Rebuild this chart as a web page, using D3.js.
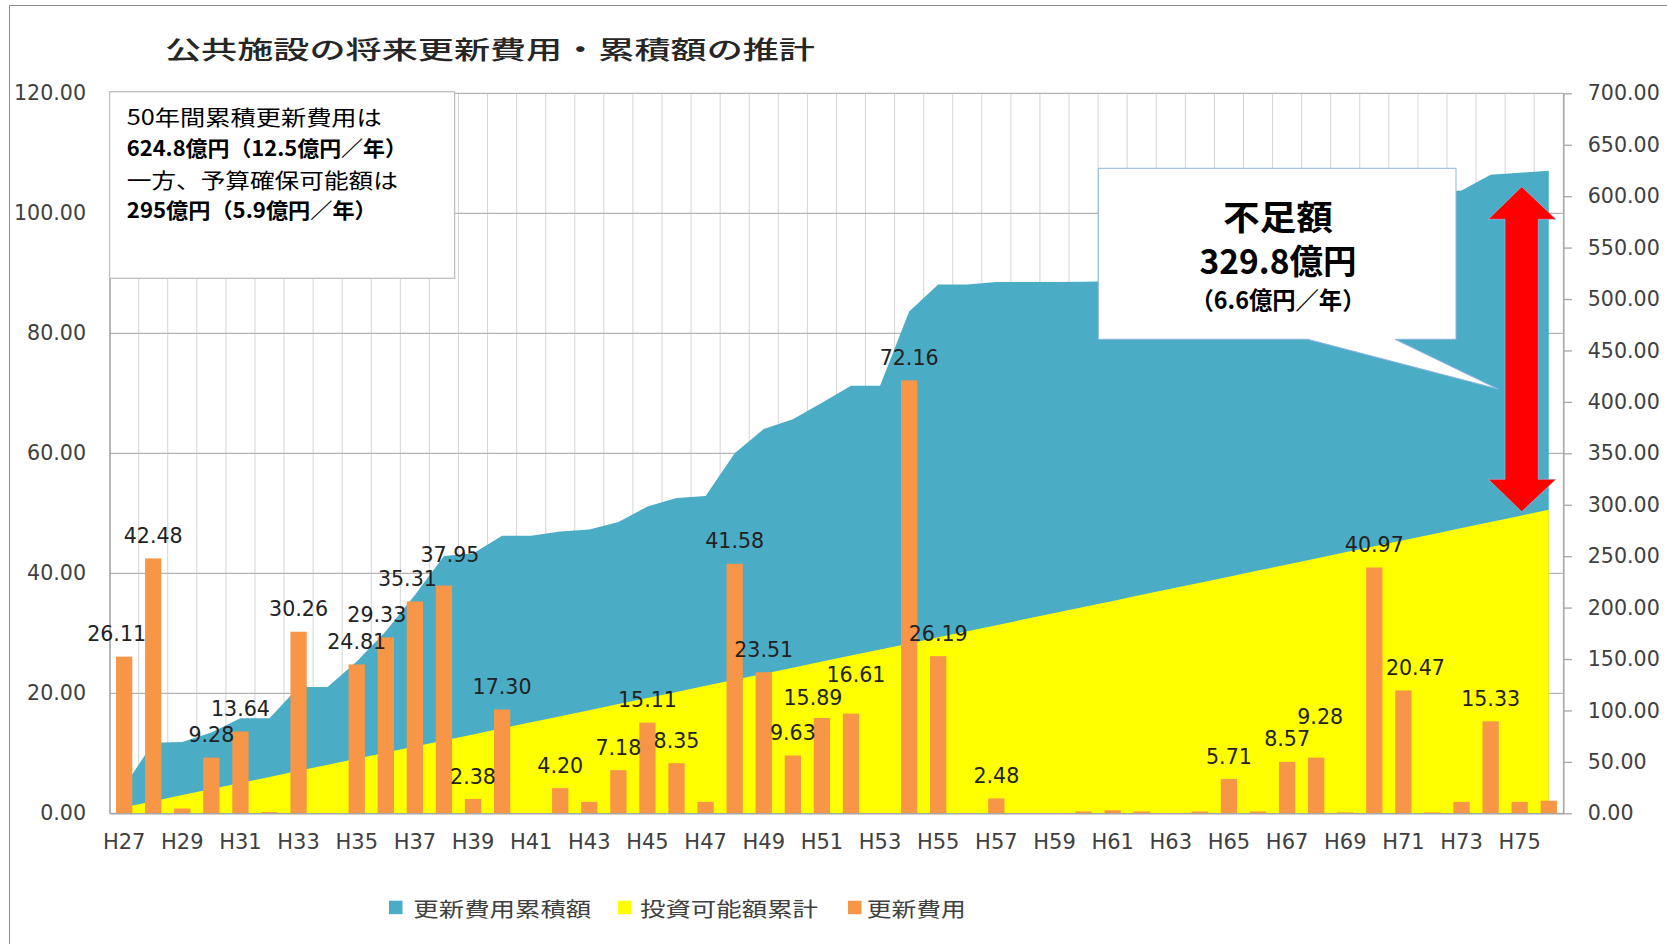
<!DOCTYPE html>
<html>
<head>
<meta charset="utf-8">
<script src="https://cdn.jsdelivr.net/npm/d3@7"></script>
<style>
  body { margin: 0; background: #fff; }
  svg { display: block; }
</style>
</head>
<body>
<div id="chart"></div>
<script>
// ---- data ----
var years = [];
for (var h = 27; h <= 76; h++) years.push("H" + h);

// 更新費用 (億円, left axis)
var renewalCost = [
  26.11, 42.48, 0.80, 9.28, 13.64, 0.20, 30.26, 0, 24.81, 29.33,
  35.31, 37.95, 2.38, 17.30, 0, 4.20, 1.90, 7.18, 15.11, 8.35,
  1.90, 41.58, 23.51, 9.63, 15.89, 16.61, 0, 72.16, 26.19, 0,
  2.48, 0, 0, 0.30, 0.50, 0.30, 0, 0.30, 5.71, 0.30,
  8.57, 9.28, 0.15, 40.97, 20.47, 0.15, 1.90, 15.33, 1.90, 2.10
];

// 更新費用累積額 (right axis)
var cumulativeCost = [
  26.11, 68.59, 69.39, 78.67, 92.31, 92.51, 122.77, 122.77, 147.58, 176.91,
  212.22, 250.17, 252.55, 269.85, 269.85, 274.05, 275.95, 283.13, 298.24, 306.59,
  308.49, 350.07, 373.58, 383.21, 399.10, 415.71, 415.71, 487.87, 514.06, 514.06,
  516.54, 516.54, 516.54, 516.84, 517.34, 517.64, 517.64, 517.94, 523.65, 523.95,
  532.52, 541.80, 541.95, 582.92, 603.39, 603.54, 605.44, 620.77, 622.67, 624.77
];

// 投資可能額累計 (right axis)
var budgetCumulative = [
  5.9, 11.8, 17.7, 23.6, 29.5, 35.4, 41.3, 47.2, 53.1, 59.0,
  64.9, 70.8, 76.7, 82.6, 88.5, 94.4, 100.3, 106.2, 112.1, 118.0,
  123.9, 129.8, 135.7, 141.6, 147.5, 153.4, 159.3, 165.2, 171.1, 177.0,
  182.9, 188.8, 194.7, 200.6, 206.5, 212.4, 218.3, 224.2, 230.1, 236.0,
  241.9, 247.8, 253.7, 259.6, 265.5, 271.4, 277.3, 283.2, 289.1, 295.0
];

var leftTicks = [0, 20, 40, 60, 80, 100, 120];
var rightTicks = [0, 50, 100, 150, 200, 250, 300, 350, 400, 450, 500, 550, 600, 650, 700];

var titleText = "公共施設の将来更新費用・累積額の推計";
var legendNames = ["更新費用累積額", "投資可能額累計", "更新費用"];
var noteLines = ["50年間累積更新費用は", "624.8億円（12.5億円／年）", "一方、予算確保可能額は", "295億円（5.9億円／年）"];
var calloutLines = ["不足額", "329.8億円", "（6.6億円／年）"];

// ---- layout ----
var W = 1667, H = 944;
var plotLeft = 109.6, plotRight = 1563.3, plotTop = 93.3, plotBottom = 813.3;
var jp = "'Noto Sans CJK JP', sans-serif";
var num = "'DejaVu Sans', sans-serif";

var colBlue = "#4bacc6", colYellow = "#ffff00", colOrange = "#f79646";

// hand-placed data label nudges [dx, dy] (labels moved in the original)
var labelNudge = {
  H27: [-7.5, 0], H36: [-9, 0], H37: [-7.5, 0], H38: [6, -8],
  H51: [-9, 3], H52: [5, -16], H68: [4, -18], H71: [12, 0]
};

var svg = d3.select("#chart").append("svg")
    .attr("width", W)
    .attr("height", H);

// outer frame
svg.append("rect")
    .attr("x", 9.5).attr("y", 5.5)
    .attr("width", W + 20).attr("height", H + 20)
    .attr("fill", "none")
    .attr("stroke", "#8c8c8c");

var x = d3.scaleBand().domain(years).range([plotLeft, plotRight]).padding(0);
var bw = x.bandwidth();
var yL = d3.scaleLinear().domain([0, 120]).range([plotBottom, plotTop]);
var yR = d3.scaleLinear().domain([0, 700]).range([plotBottom, plotTop]);

// gridlines
var grid = svg.append("g");
grid.selectAll(".vgrid")
    .data(years.concat(["end"]))
  .enter().append("line")
    .attr("x1", function(d, i) { return i < years.length ? x(d) : plotRight; })
    .attr("x2", function(d, i) { return i < years.length ? x(d) : plotRight; })
    .attr("y1", plotTop).attr("y2", plotBottom)
    .attr("stroke", "#d4d4d4").attr("stroke-width", 1);
grid.selectAll(".hgrid")
    .data(leftTicks)
  .enter().append("line")
    .attr("x1", plotLeft).attr("x2", plotRight)
    .attr("y1", function(d) { return yL(d); })
    .attr("y2", function(d) { return yL(d); })
    .attr("stroke", "#b4b4b4").attr("stroke-width", 1.3);

// areas
var area = d3.area()
    .x(function(d, i) { return x(years[i]) + bw / 2; })
    .y0(yR(0))
    .y1(function(d) { return yR(d); });

svg.append("path")
    .datum(cumulativeCost)
    .attr("d", area)
    .attr("fill", colBlue);

svg.append("path")
    .datum(budgetCumulative)
    .attr("d", area)
    .attr("fill", colYellow);

// bars
var barW = bw * 0.56;
var barData = renewalCost.map(function(v, i) { return { year: years[i], value: v }; });

svg.selectAll(".bar")
    .data(barData)
  .enter().append("rect")
    .attr("class", "bar")
    .attr("x", function(d) { return x(d.year) + (bw - barW) / 2; })
    .attr("width", barW)
    .attr("y", function(d) { return yL(d.value); })
    .attr("height", function(d) { return yL(0) - yL(d.value); })
    .attr("fill", colOrange);

// axes
var axisL = svg.append("g")
    .attr("transform", "translate(" + plotLeft + ",0)")
    .call(d3.axisLeft(yL).tickValues(leftTicks).tickFormat(d3.format(".2f"))
        .tickSize(0).tickPadding(23.6));
var axisR = svg.append("g")
    .attr("transform", "translate(" + plotRight + ",0)")
    .call(d3.axisRight(yR).tickValues(rightTicks).tickFormat(d3.format(".2f"))
        .tickSize(8.7).tickSizeOuter(0).tickPadding(15.7));
var axisB = svg.append("g")
    .attr("transform", "translate(0," + plotBottom + ")")
    .call(d3.axisBottom(x).tickValues(years.filter(function(d, i) { return i % 2 === 0; }))
        .tickSize(0).tickPadding(21));

[axisL, axisR, axisB].forEach(function(a) {
    a.select(".domain").attr("stroke", "#a6a6a6").attr("stroke-width", 1.5);
    a.selectAll(".tick line").attr("stroke", "#a6a6a6").attr("stroke-width", 1.3);
    a.selectAll("text")
        .attr("fill", "#404040")
        .style("font-family", num)
        .style("font-size", "20.6px");
});
axisB.selectAll("text").style("font-size", "21px");

// data labels (small bars are not labelled in the original)
svg.selectAll(".dlabel")
    .data(barData.filter(function(d) { return d.value >= 2.2; }))
  .enter().append("text")
    .attr("class", "dlabel")
    .attr("x", function(d) {
        var n = labelNudge[d.year];
        return x(d.year) + bw / 2 + (n ? n[0] : 0);
    })
    .attr("y", function(d) {
        var n = labelNudge[d.year];
        return yL(d.value) - 22.5 + (n ? n[1] : 0);
    })
    .attr("text-anchor", "middle")
    .attr("dominant-baseline", "central")
    .style("font-family", num)
    .style("font-size", "20.6px")
    .attr("fill", "#222")
    .text(function(d) { return d3.format(".2f")(d.value); });

// note box (top left)
svg.append("rect")
    .attr("x", 109.6).attr("y", 91.7)
    .attr("width", 345).attr("height", 186.6)
    .attr("fill", "#fff")
    .attr("stroke", "#bfbfbf").attr("stroke-width", 1.3);

var noteY = [115.8, 146.7, 179, 209];
var noteW = [255, 280, 271, 250];
svg.selectAll(".note")
    .data(noteLines)
  .enter().append("text")
    .attr("x", 126.8)
    .attr("y", function(d, i) { return noteY[i]; })
    .attr("dominant-baseline", "central")
    .attr("textLength", function(d, i) { return noteW[i]; })
    .attr("lengthAdjust", "spacingAndGlyphs")
    .style("font-family", jp)
    .style("font-size", "21px")
    .style("font-weight", function(d, i) { return i % 2 === 1 ? "bold" : "normal"; })
    .attr("fill", "#000")
    .text(function(d) { return d; });

// callout (right)
var bx0 = 1098.3, bx1 = 1456, by0 = 168.3, by1 = 339.3;
svg.append("path")
    .attr("d", "M" + bx0 + "," + by0 + "H" + bx1 + "V" + by1 + "H1395L1498,389L1307.7," + by1 + "H" + bx0 + "Z")
    .attr("fill", "#fff")
    .attr("stroke", "#8db3e2")
    .attr("stroke-width", 1);

var callY = [215, 259.5, 298];
var callSize = [34, 34, 24];
var callW = [110, 157, 175];
svg.selectAll(".callout")
    .data(calloutLines)
  .enter().append("text")
    .attr("x", function(d, i) { return 1278 - callW[i] / 2; })
    .attr("y", function(d, i) { return callY[i]; })
    .attr("dominant-baseline", "central")
    .attr("textLength", function(d, i) { return callW[i]; })
    .attr("lengthAdjust", "spacingAndGlyphs")
    .style("font-family", jp)
    .style("font-weight", "bold")
    .style("font-size", function(d, i) { return callSize[i] + "px"; })
    .attr("fill", "#000")
    .text(function(d) { return d; });

// red double arrow
var ax = 1521.7;
svg.append("path")
    .attr("d", "M" + ax + ",186.7L1556,219.3H1538.3V479.3H1556L" + ax + ",511.7L1488.3,479.3H1505V219.3H1488.3Z")
    .attr("fill", "#ff0000")
    .attr("stroke", "#9dc3e6")
    .attr("stroke-width", 0.6);

// title
svg.append("text")
    .attr("x", 165).attr("y", 48)
    .attr("dominant-baseline", "central")
    .attr("textLength", 650)
    .attr("lengthAdjust", "spacingAndGlyphs")
    .style("font-family", jp)
    .style("font-size", "25px")
    .style("font-weight", 500)
    .attr("fill", "#262626")
    .text(titleText);

// legend
var legX = [389, 618, 848];
var legTextX = [413.3, 640, 866.7];
var legTextW = [178, 178, 99];
var legCol = [colBlue, colYellow, colOrange];
var legend = svg.selectAll(".legend")
    .data(legendNames)
  .enter().append("g");
legend.append("rect")
    .attr("x", function(d, i) { return legX[i]; })
    .attr("y", 900.7)
    .attr("width", 13.5).attr("height", 13.5)
    .attr("fill", function(d, i) { return legCol[i]; });
legend.append("text")
    .attr("x", function(d, i) { return legTextX[i]; })
    .attr("y", 907.5)
    .attr("dominant-baseline", "central")
    .attr("textLength", function(d, i) { return legTextW[i]; })
    .attr("lengthAdjust", "spacingAndGlyphs")
    .style("font-family", jp)
    .style("font-size", "20.5px")
    .attr("fill", "#404040")
    .text(function(d) { return d; });
</script>
</body>
</html>
